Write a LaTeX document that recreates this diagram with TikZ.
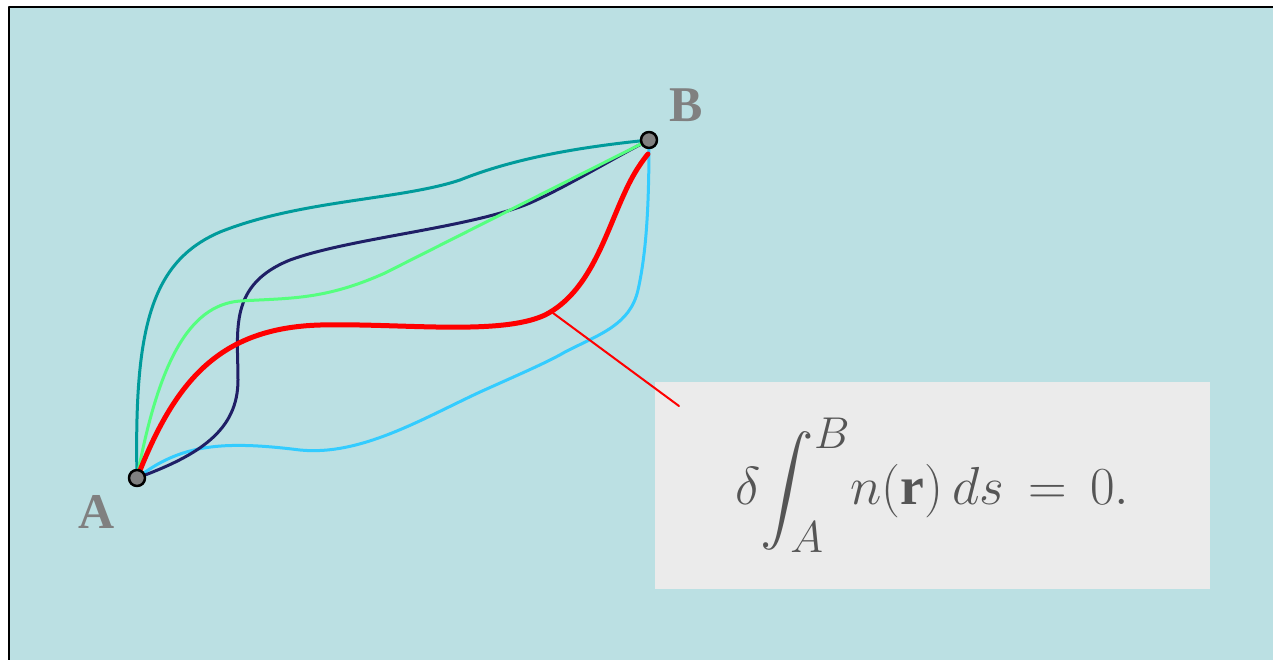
\documentclass[tikz,border=0pt]{standalone}
\usepackage{graphicx}
\usepackage{exscale}
\usepackage{fontspec}
\setmainfont{Liberation Serif}
\usetikzlibrary{positioning}
\definecolor{bgcol}{HTML}{BBE0E3}
\definecolor{tealcol}{HTML}{009B9B}
\definecolor{greencol}{HTML}{55FF7F}
\definecolor{navycol}{HTML}{1F1F66}
\definecolor{cyancol}{HTML}{33CCFF}
\definecolor{ptgray}{HTML}{808080}
\definecolor{boxgray}{HTML}{EBEBEB}
\definecolor{inkgray}{HTML}{555555}
\begin{document}
\begin{tikzpicture}[x=1pt, y=-1pt, line join=round, line cap=round,
  ray/.style={line width=3pt},
  endpt/.style={fill=ptgray, draw=black, line width=2.5pt},
  ptlabel/.style={text=ptgray, font=\fontsize{50}{54}\selectfont\bfseries}]
\useasboundingbox (0,0) rectangle (1273,659);
\fill[white] (0,0) rectangle (1273,659);
\fill[bgcol] (9,7) rectangle (1290,680);
\draw[line width=2.5pt] (9,680) -- (9,7) -- (1290,7);
\coordinate (A) at (137,478);
\coordinate (B) at (649,140);
\coordinate (Bred) at (648,154);
% the paths from A to B
\draw[ray, tealcol] (A) .. controls (134,330) and (150,262) .. (220,232)
  .. controls (300,200) and (400,200) .. (460,180)
  .. controls (515,158) and (580,147) .. (B);
\draw[ray, cyancol] (A) .. controls (180,445) and (220,440) .. (300,450)
  .. controls (360,456) and (420,420) .. (480,392)
  .. controls (520,374) and (548,362) .. (565,352)
  .. controls (600,334) and (630,325) .. (638,290)
  .. controls (647,250) and (649,200) .. (B);
\draw[ray, navycol] (A) .. controls (200,455) and (238,430) .. (238,380)
  .. controls (238,330) and (228,285) .. (290,260)
  .. controls (350,238) and (470,228) .. (530,203)
  .. controls (570,185) and (610,160) .. (B);
\draw[ray, greencol] (A) .. controls (158,365) and (188,305) .. (240,301)
  .. controls (290,298) and (325,300) .. (385,273)
  -- (B);
\draw[red, line width=5pt] (A) .. controls (175,380) and (220,328) .. (320,325)
  .. controls (400,323) and (500,336) .. (545,315)
  .. controls (590,292) and (605,235) .. (625,192)
  .. controls (634,172) and (643,160) .. (Bred);
% the formula
\node[fill=boxgray, minimum width=555pt, minimum height=207pt, inner sep=0pt,
  text=inkgray, font=\Huge]
  (formula) at (932.5,485.5)
  {\scalebox{2.15}{$\displaystyle\delta\!\int_A^B\! n(\mathbf{r})\,ds\,=\,0.$}};
\coordinate (lead) at (553,313);
\draw[red, line width=2pt] (lead) -- (679,406);
\filldraw[endpt] (A) circle (8);
\filldraw[endpt] (B) circle (8);
\node[ptlabel] at (97,512) {A};
\node[ptlabel] at (686,105) {B};
\end{tikzpicture}
\end{document}
